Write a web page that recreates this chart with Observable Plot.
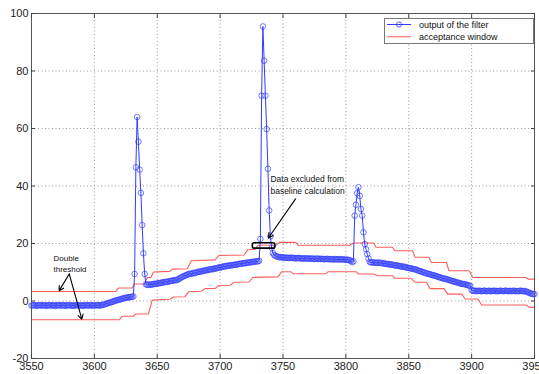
<!DOCTYPE html>
<html><head><meta charset="utf-8">
<script src="https://cdn.jsdelivr.net/npm/d3@7"></script>
<script src="https://cdn.jsdelivr.net/npm/@observablehq/plot@0.6"></script>
<style>body{margin:0;background:#fff}</style>
</head><body><div id="chart"></div>
<script>
// ---- data ----
const xStart = 3550; // one filter sample per x unit
const filterOutput = [
-1.6,-1.5,-1.4,-1.5,-1.7,-1.6,-1.4,-1.5,-1.6,-1.5,
-1.4,-1.6,-1.7,-1.5,-1.4,-1.5,-1.6,-1.5,-1.5,-1.7,
-1.6,-1.4,-1.5,-1.6,-1.5,-1.4,-1.6,-1.7,-1.5,-1.5,
-1.4,-1.6,-1.5,-1.6,-1.7,-1.5,-1.4,-1.5,-1.6,-1.5,
-1.5,-1.7,-1.6,-1.4,-1.5,-1.6,-1.5,-1.4,-1.6,-1.5,
-1.6,-1.5,-1.4,-1.5,-1.6,-1.5,-1.4,-1.3,
-1.2,-1.0,-0.9,-0.7,-0.6,-0.5,-0.3,-0.2,0.0,0.1,0.3,0.4,0.5,0.6,0.8,0.9,1.0,1.1,1.2,1.3,1.3,1.4,1.5,1.6,
9.4,46.5,64,55.4,45.7,37.6,26.4,16.6,9.4,5.8,
5.6,5.7,5.6,5.8,5.7,5.9,6.0,5.9,6.1,6.2,
6.2,6.3,6.5,6.4,6.6,6.7,6.6,6.8,6.9,7.0,
7.0,7.2,7.3,7.2,7.4,7.6,7.9,8.2,8.4,8.6,
8.8,9.0,9.2,9.3,9.5,9.4,9.6,9.8,9.7,9.9,
10.1,10.2,10.1,10.3,10.5,10.4,10.6,10.8,10.7,10.9,
11.0,11.1,11.0,11.2,11.4,11.3,11.5,11.7,11.6,11.8,
11.9,12.1,12.0,12.2,12.3,12.2,12.4,12.5,12.4,12.6,
12.7,12.6,12.8,12.9,13.0,12.9,13.1,13.2,13.1,13.3,
13.4,13.3,13.5,13.6,13.5,13.7,13.8,13.7,13.8,
14.0,21.6,71.4,95.5,83.6,71.4,59.8,46.0,31.5,22.5,18.5,16.6,
16.0,15.7,15.5,15.4,15.2,15.3,15.1,15.2,15.0,15.1,
15.0,15.1,14.9,15.0,15.1,14.9,15.0,14.8,14.9,15.0,
14.9,14.8,14.9,14.7,14.8,14.9,14.8,14.7,14.8,14.7,
14.8,14.7,14.6,14.7,14.8,14.6,14.7,14.6,14.7,14.6,
14.5,14.6,14.7,14.5,14.6,14.5,14.6,14.4,14.5,14.6,
14.5,14.4,14.5,14.6,14.4,14.5,14.4,14.3,14.4,14.3,
14.2,13.9,
13.5,13.8,29.7,33.5,37.5,39.6,36.6,32.0,29.7,23.9,19.8,18.0,16.3,14.8,13.6,
13.4,13.5,13.3,13.4,13.2,13.3,13.4,13.2,13.3,13.1,
13.0,13.1,12.9,12.8,12.9,12.7,12.6,12.7,12.5,12.4,
12.3,12.4,12.2,12.1,12.0,11.9,12.0,11.8,11.7,11.6,
11.5,11.4,11.3,11.2,11.1,11.0,10.9,10.7,10.5,10.4,
10.2,10.1,9.9,9.8,9.6,9.5,9.4,9.3,9.1,9.0,
8.9,8.8,8.6,8.5,8.3,8.2,8.0,7.9,7.8,7.7,
7.6,7.5,7.3,7.2,7.0,6.9,6.8,6.6,6.5,6.4,
6.3,6.1,6.0,5.9,5.9,5.8,5.6,5.5,5.4,5.2,
3.8,3.6,3.5,3.6,3.4,3.5,3.6,3.5,3.4,3.5,
3.6,3.5,3.4,3.5,3.6,3.4,3.5,3.5,3.6,3.4,
3.5,3.4,3.5,3.6,3.5,3.4,3.5,3.6,3.5,3.4,
3.5,3.5,3.4,3.6,3.5,3.4,3.5,3.4,3.5,3.6,
3.5,3.4,3.5,3.3,3.2,3.0,2.8,2.6,2.5,2.4,
2.4
];
const upperX = [3550,3617,3619,3630,3632,3640,3642,3645,3647,3660,3662,3674,3677,3696,3699,3719,3722,3728,3730,3745,3747,3760,3762,3803,3806,3822,3824,3837,3839,3853,3855,3866,3868,3880,3882,3898,3901,3943,3945,3950];
const upperY = [3.3,3.3,4.5,4.5,5.9,5.9,8.2,8.2,10.1,10.3,11.1,11.2,14.0,14.3,15.8,16.0,17.8,18.0,19.4,19.5,20.4,20.4,19.4,19.4,20.2,20.2,18.7,18.7,17.5,17.5,15.2,15.2,13.4,13.4,10.5,10.5,8.2,8.2,7.6,7.6];
const lowerX = [3550,3620,3622,3631,3633,3643,3646,3660,3663,3672,3675,3685,3688,3696,3699,3708,3711,3723,3726,3746,3749,3756,3758,3784,3786,3808,3810,3822,3825,3837,3839,3852,3855,3864,3867,3878,3881,3892,3895,3905,3908,3943,3946,3950];
const lowerY = [-6.5,-6.5,-5.3,-5.3,-4.5,-4.5,0.3,0.6,1.4,1.5,3.2,3.4,4.3,4.4,5.4,5.5,6.5,6.6,8.2,8.4,10.2,10.2,9.5,9.5,10.2,10.2,9.4,9.4,8.8,8.8,7.9,7.9,6.5,6.5,4.3,4.3,2.4,2.4,0.7,0.7,-1.4,-1.4,-2.2,-2.2];
const xTicks = [3550,3600,3650,3700,3750,3800,3850,3900,3950];
const yTicks = [-20,0,20,40,60,80,100];
const legendLabels = ["output of the filter","acceptance window"];
const noteDouble = "Double\nthreshold";
const noteExcluded = "Data excluded from\nbaseline calculation";
const excludedRange = [3726,3744];   // x span of the bracket
const excludedLevel = [18.2,20.1];   // y span of the bracket

// ---- build ----
const filterData = filterOutput.map((v,i)=>({x:xStart+i, y:v}));
const upper = upperX.map((x,i)=>({x, y:upperY[i]}));
const lower = lowerX.map((x,i)=>({x, y:lowerY[i]}));
const blue = "#2f3cff", red = "#ff5c5c";
const font = "'Liberation Sans', Arial, sans-serif";

const plot = Plot.plot({
  width: 539, height: 374,
  marginLeft: 31, marginRight: 5, marginTop: 13, marginBottom: 16,
  x: {domain: [3550,3950]},
  y: {domain: [-20,100]},
  style: {fontFamily: font, fontSize: "11px", color: "#222", background: "white", overflow: "visible"},
  marks: [
    Plot.gridX(xTicks.slice(1,-1), {stroke:"#9a9a9a", strokeOpacity:1, strokeDasharray:"1,2.5"}),
    Plot.gridY(yTicks.slice(1,-1), {stroke:"#9a9a9a", strokeOpacity:1, strokeDasharray:"1,2.5"}),
    Plot.line(upper, {x:"x", y:"y", stroke:red, strokeWidth:1.1}),
    Plot.line(lower, {x:"x", y:"y", stroke:red, strokeWidth:1.1}),
    Plot.line(filterData, {x:"x", y:"y", stroke:blue, strokeWidth:1}),
    Plot.dot(filterData, {x:"x", y:"y", r:2.8, stroke:blue, strokeWidth:0.8, fill:"none", strokeOpacity:0.85}),
    Plot.rect([0], {x1:excludedRange[0], x2:excludedRange[1], y1:excludedLevel[0], y2:excludedLevel[1], stroke:"black", strokeWidth:1.6, fill:"none", rx:2}),
    Plot.arrow([0], {x1:3760, y1:35.5, x2:3738.5, y2:22, stroke:"black", strokeWidth:1.1, headLength:7}),
    Plot.arrow([0], {x1:3580, y1:9.4, x2:3572, y2:3.6, stroke:"black", strokeWidth:1.1, headLength:7}),
    Plot.arrow([0], {x1:3580, y1:9.4, x2:3590, y2:-6.3, stroke:"black", strokeWidth:1.1, headLength:7}),
    Plot.text([noteDouble], {x:3567.5, y:13.3, text:d=>d, textAnchor:"start", lineAnchor:"middle", fontSize:8, lineHeight:1.45, fill:"#111"}),
    Plot.text([noteExcluded], {x:3740, y:40.6, text:d=>d, textAnchor:"start", lineAnchor:"middle", fontSize:8.5, lineHeight:1.35, fill:"#111"}),
    Plot.frame({stroke:"#555", strokeWidth:1}),
    Plot.axisX(xTicks, {anchor:"bottom", tickSize:0, tickPadding:4, tickFormat:d=>String(d), label:null, fontSize:11}),
    Plot.axisY(yTicks, {anchor:"left", tickSize:0, tickPadding:3, tickFormat:d=>String(d), label:null, fontSize:11}),
    Plot.axisX(xTicks, {anchor:"bottom", tickSize:-4, tickFormat:()=>"", label:null, stroke:"#444"}),
    Plot.axisX(xTicks, {anchor:"top", tickSize:-4, tickFormat:()=>"", label:null, stroke:"#444"}),
    Plot.axisY(yTicks, {anchor:"left", tickSize:-4, tickFormat:()=>"", label:null, stroke:"#444"}),
    Plot.axisY(yTicks, {anchor:"right", tickSize:-4, tickFormat:()=>"", label:null, stroke:"#444"})
  ]
});

// ---- legend box (top-right, inside the axes) ----
const svg = d3.select(plot);
const lg = svg.append("g").attr("font-family", font).attr("font-size", 9).attr("text-anchor", "start");
lg.append("rect").attr("x",384.5).attr("y",18.5).attr("width",149).attr("height",25)
  .attr("fill","white").attr("stroke","#777");
const colors = [blue, red];
legendLabels.forEach((lab,i)=>{
  const yy = 24.5 + i*12.3;
  lg.append("line").attr("x1",387).attr("x2",411).attr("y1",yy).attr("y2",yy).attr("stroke",colors[i]).attr("stroke-width",1);
  if (i===0) lg.append("circle").attr("cx",399).attr("cy",yy).attr("r",2.6).attr("fill","none").attr("stroke",blue).attr("stroke-width",0.8);
  lg.append("text").attr("x",419).attr("y",yy).attr("dy","0.35em").attr("text-anchor","start").attr("fill","#111").text(lab);
});
document.getElementById("chart").appendChild(plot);
</script>
</body></html>
